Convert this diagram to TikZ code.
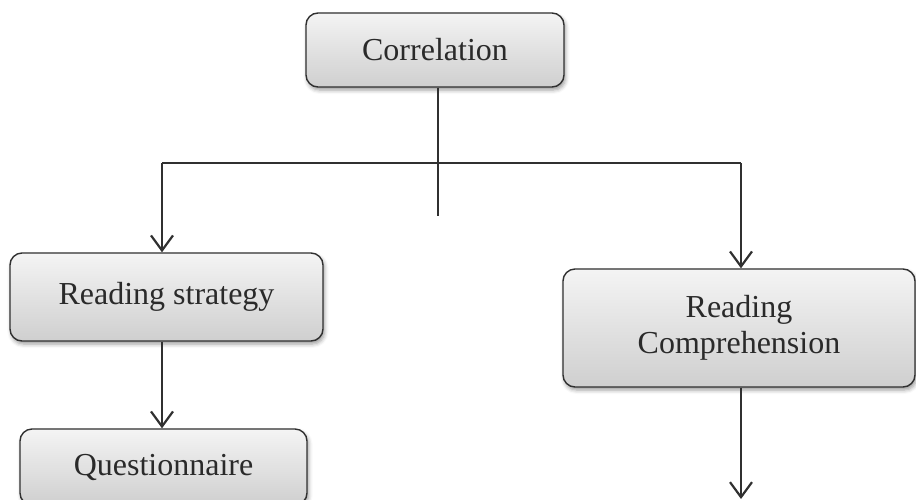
\documentclass[tikz,border=0pt]{standalone}
\usepackage{fontspec}
\setmainfont{Liberation Serif}
\usetikzlibrary{arrows.meta,shadows.blur}
\definecolor{edge}{HTML}{303030}
\definecolor{txt}{HTML}{2A2A2A}
\definecolor{boxtop}{HTML}{F4F4F4}
\definecolor{boxbot}{HTML}{CFCFCF}
\begin{document}
\begin{tikzpicture}[x=1pt,y=1pt,
  box/.style={draw=edge, line width=1.4pt, rounded corners=12pt,
    top color=boxtop, bottom color=boxbot,
    blur shadow={shadow xshift=1.5pt, shadow yshift=-3pt, shadow blur radius=4pt, shadow opacity=40},
    font=\fontsize{32}{36}\selectfont, text=txt, align=center, inner sep=0pt},
  conn/.style={draw=edge, line width=2.2pt},
  arr/.style={conn, -{Straight Barb[length=15pt,width=22pt]}}]
\useasboundingbox (0,0) rectangle (916,-499);
\node[box, minimum width=258, minimum height=74] (corr) at (435,-50) {\raisebox{2pt}{Correlation}};
\node[box, minimum width=313, minimum height=88] (rs) at (166.5,-297) {\raisebox{5pt}{Reading strategy}};
\node[box, minimum width=287, minimum height=76] (q) at (163.5,-467) {\raisebox{2pt}{Questionnaire}};
\node[box, minimum width=352, minimum height=118] (rc) at (739,-328) {\raisebox{-5pt}{\begin{tabular}{@{}c@{}}Reading\\Comprehension\end{tabular}}};
\coordinate (j) at (438,-163);
\coordinate (tail) at (438,-216);
\coordinate (jl) at (162,-163);
\coordinate (jr) at (741,-163);
\coordinate (endr) at (741,-499);
\draw[conn] (j |- corr.south) -- (tail);
\draw[conn] (jl) -- (jr);
\draw[arr] (jl) -- (jl |- rs.north);
\draw[arr] (jl |- rs.south) -- (jl |- q.north);
\draw[arr] (jr) -- (jr |- rc.north);
\draw[arr] (jr |- rc.south) -- (endr);
\end{tikzpicture}
\end{document}
